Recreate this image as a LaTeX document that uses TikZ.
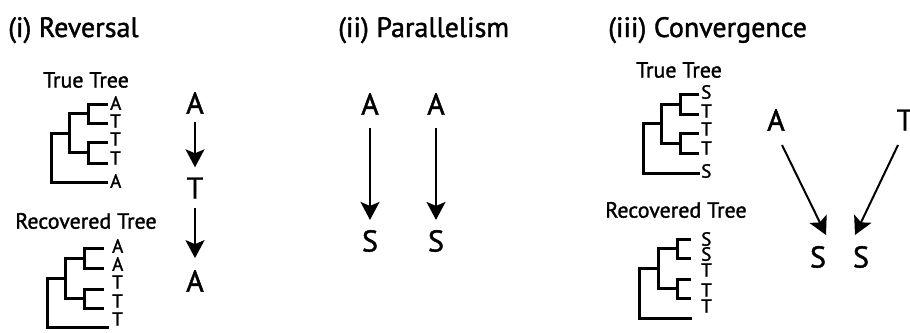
\documentclass[tikz,border=0pt]{standalone}
\usepackage{fontspec}
\setmainfont{PT Sans}
\newfontfamily\labelfont{PT Sans}[FakeBold=1.4]
\usetikzlibrary{arrows.meta}

\tikzset{
  title/.style={anchor=base west, inner sep=0pt, font=\labelfont\fontsize{28}{32}\selectfont},
  treelabel/.style={inner sep=0pt, font=\labelfont\fontsize{22}{26}\selectfont},
  leaf/.style={anchor=west, inner sep=0pt, font=\labelfont\fontsize{19}{21}\selectfont},
  state/.style={inner sep=0pt, font=\labelfont\fontsize{30}{34}\selectfont},
  branch/.style={line width=3pt, line cap=butt, line join=miter},
  change/.style={line width=2pt,
    -{Stealth[length=18pt, width=19pt, inset=4pt]}},
}

\begin{document}
\begin{tikzpicture}[x=1pt, y=-1pt]
\useasboundingbox (0,0) rectangle (910,332);

% panel titles
\node[title] (t1) at (8,37) {(i) Reversal};
\node[title] (t2) at (338,37) {(ii) Parallelism};
\node[title] (t3) at (608,37) {(iii) Convergence};

% ---------- (i) Reversal: true tree ----------
\node[treelabel] (rtruelab) at (86,80) {True Tree};
\draw[branch] (108,104) -- (88,104) -- (88,123) -- (108,123);
\draw[branch] (108,142) -- (88,142) -- (88,163) -- (108,163);
\draw[branch] (88,113.5) -- (69,113.5) -- (69,152.5) -- (88,152.5);
\draw[branch] (69,133) -- (51,133) -- (51,182) -- (108,182);
\node[leaf] (r1a) at (110,103) {A};
\node[leaf] (r1b) at (110,121) {T};
\node[leaf] (r1c) at (110,139) {T};
\node[leaf] (r1d) at (110,158) {T};
\node[leaf] (r1e) at (110,181) {A};

% ---------- (i) Reversal: recovered tree ----------
\node[treelabel] (rreclab) at (86,221) {Recovered Tree};
\draw[branch] (104,248) -- (84,248) -- (84,268) -- (104,268);
\draw[branch] (104,289) -- (84,289) -- (84,308) -- (104,308);
\draw[branch] (84,258) -- (65,258) -- (65,298.5) -- (84,298.5);
\draw[branch] (65,278) -- (47,278) -- (47,327) -- (109,327);
\node[leaf] (r2a) at (112,246) {A};
\node[leaf] (r2b) at (112,264) {A};
\node[leaf] (r2c) at (112,282) {T};
\node[leaf] (r2d) at (112,301) {T};
\node[leaf] (r2e) at (112,319) {T};

% ---------- (i) Reversal: state changes ----------
\node[state] (ra) at (195,103) {A};
\node[state] (rt) at (195,188) {T};
\node[state] (rb) at (195,281) {A};
\draw[change, shorten <=8pt, shorten >=10pt] (ra.south) -- (rt.north);
\draw[change, shorten <=9pt, shorten >=12pt] (rt.south) -- (rb.north);

% ---------- (ii) Parallelism ----------
\node[state] (pa1) at (370,104) {A};
\node[state] (pa2) at (436,104) {A};
\node[state] (ps1) at (370,241) {S};
\node[state] (ps2) at (436,241) {S};
\draw[change, shorten <=13pt, shorten >=10pt] (pa1.south) -- (ps1.north);
\draw[change, shorten <=13pt, shorten >=10pt] (pa2.south) -- (ps2.north);

% ---------- (iii) Convergence: true tree ----------
\node[treelabel] (ctruelab) at (679,70) {True Tree};
\draw[branch] (699,94) -- (680,94) -- (680,114) -- (699,114);
\draw[branch] (699,133) -- (680,133) -- (680,153) -- (699,153);
\draw[branch] (680,104) -- (661,104) -- (661,143) -- (680,143);
\draw[branch] (661,123.5) -- (643,123.5) -- (643,173) -- (700,173);
\node[leaf] (c1a) at (701,92) {S};
\node[leaf] (c1b) at (701,111) {T};
\node[leaf] (c1c) at (701,129) {T};
\node[leaf] (c1d) at (701,148) {T};
\node[leaf] (c1e) at (701,171) {S};

% ---------- (iii) Convergence: recovered tree ----------
\node[treelabel] (creclab) at (676,210) {Recovered Tree};
\draw[branch] (691,239) -- (677,239) -- (677,258) -- (691,258);
\draw[branch] (691,279) -- (677,279) -- (677,298) -- (691,298);
\draw[branch] (677,248.5) -- (658,248.5) -- (658,288.5) -- (677,288.5);
\draw[branch] (658,268.5) -- (639,268.5) -- (639,318) -- (692,318);
\node[leaf] (c2a) at (701,239) {S};
\node[leaf] (c2b) at (701,254) {S};
\node[leaf] (c2c) at (701,270) {T};
\node[leaf] (c2d) at (701,290) {T};
\node[leaf] (c2e) at (701,306) {T};

% ---------- (iii) Convergence: state changes ----------
\node[state] (ca) at (776,120) {A};
\node[state] (ct) at (905,120) {T};
\node[state] (cs1) at (818,257) {S};
\node[state] (cs2) at (861,257) {S};
\coordinate (cafrom) at (782,145);
\coordinate (cato) at (826,235);
\coordinate (ctfrom) at (898,145);
\coordinate (ctto) at (855,235);
\draw[change] (cafrom) -- (cato);
\draw[change] (ctfrom) -- (ctto);
\end{tikzpicture}
\end{document}
